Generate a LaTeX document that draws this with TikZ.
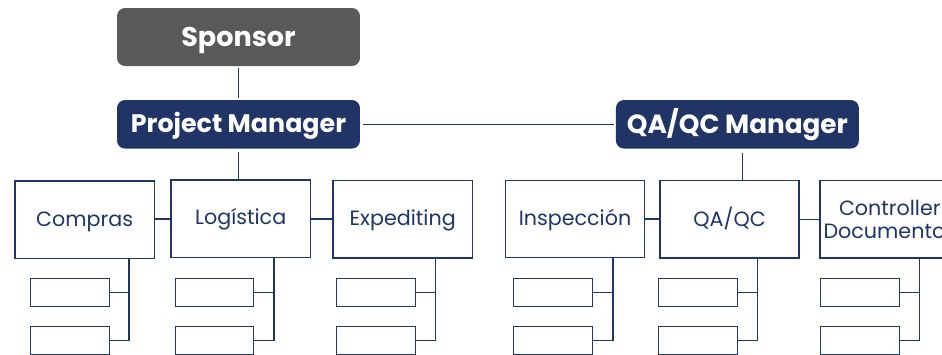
\documentclass[tikz,border=0pt]{standalone}
\usepackage{fontspec}
\setmainfont{Poppins}
\definecolor{navy}{HTML}{203566}
\definecolor{sponsorgray}{HTML}{595959}
\newcommand{\ms}[1]{\rule[\dimexpr-0.3\baselineskip+#1\relax]{0pt}{\baselineskip}}
\newcommand{\subcol}[5]{% prefix, parent, sub left x, trunk x, y offset
  \node[subbox,anchor=north west] (#1a) at (#3,278) {};
  \node[subbox,anchor=north west] (#1b) at (#3,326) {};
  \coordinate (#1t) at (#4,#5);
  \draw[link] (#1t) -- (#1t |- #1b.east) -- (#1b.east);
  \draw[link] (#1t |- #1a.east) -- (#1a.east);
}
\tikzset{
  x=0.75pt,y=-0.75pt,
  head/.style={rounded corners=6pt,text=white,font=\fontsize{19pt}{22pt}\selectfont\bfseries,minimum height=36.4pt,minimum width=182.2pt,inner sep=0pt},
  mainbox/.style={draw=navy,line width=1.2pt,fill=white,text=navy,font=\fontsize{15.5pt}{17.5pt}\selectfont,minimum width=104.4pt,minimum height=58pt,inner sep=0pt,align=center},
  subbox/.style={draw=navy,line width=0.85pt,fill=white,minimum width=59pt,minimum height=20.9pt,inner sep=0pt},
  link/.style={draw=navy,line width=1.15pt},
}
\begin{document}
\begin{tikzpicture}
\useasboundingbox (0,0) rectangle (942,354);
\clip (0,0) rectangle (942,354);
\node[head,fill=sponsorgray,minimum height=43.5pt,font=\fontsize{20.3pt}{24pt}\selectfont\bfseries] (sponsor) at (238.5,37) {\ms{3pt}Sponsor};
\node[head,fill=navy] (pm) at (238.5,124.3) {\ms{2.25pt}Project Manager};
\node[head,fill=navy,font=\fontsize{19.7pt}{22pt}\selectfont\bfseries] (qm) at (737.4,124.3) {\ms{1.5pt}QA/QC Manager};
\node[mainbox] (compras) at (84.7,219.8) {\ms{1.5pt}Compras};
\node[mainbox] (logistica) at (240.7,218.8) {\ms{1pt}Logística};
\node[mainbox] (expediting) at (402.7,219.3) {\ms{1.5pt}Expediting};
\node[mainbox] (inspeccion) at (575,219) {\ms{2pt}Inspección};
\node[mainbox] (qaqc) at (729.6,219.3) {\ms{1pt}QA/QC};
\node[mainbox] (controller) at (889.8,219.3) {\ms{2.5pt}Controller\\\ms{2.5pt}Documentos};
\draw[link] ([yshift=-1pt]sponsor.south) -- ([yshift=1pt]pm.north);
\draw[link] ([xshift=2pt]pm.east) -- ([xshift=-1pt]qm.west);
\coordinate (pmd) at (238.5,152);
\coordinate (qmd) at (742.7,153);
\draw[link] (pmd) -- (pmd |- logistica.north);
\draw[link] (qmd) -- (qmd |- qaqc.north);
\draw[link] (compras.east |- logistica.east) -- (logistica.west);
\draw[link] (logistica.east) -- (logistica.east -| expediting.west);
\draw[link] (inspeccion.east) -- (inspeccion.east -| qaqc.west);
\draw[link] (qaqc.east) -- (qaqc.east -| controller.west);
\subcol{c}{compras}{30}{129}{258.5}
\subcol{l}{logistica}{174.5}{274}{257.5}
\subcol{e}{expediting}{336}{435.5}{258}
\subcol{i}{inspeccion}{513.3}{613}{258}
\subcol{q}{qaqc}{658}{757.7}{258}
\subcol{d}{controller}{820}{919.5}{258}
\end{tikzpicture}
\end{document}
